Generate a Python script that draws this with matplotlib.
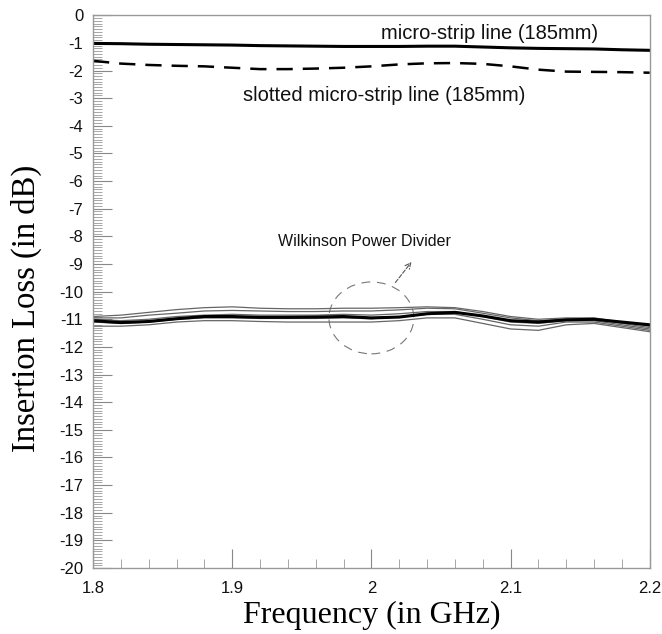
import numpy as np
import matplotlib
matplotlib.use("Agg")
import matplotlib.pyplot as plt
from matplotlib.patches import Ellipse
from matplotlib.ticker import MultipleLocator

freq = [1.80, 1.82, 1.84, 1.86, 1.88, 1.90, 1.92, 1.94, 1.96, 1.98, 2.00,
        2.02, 2.04, 2.06, 2.08, 2.10, 2.12, 2.14, 2.16, 2.18, 2.20]

micro_strip = [-1.02, -1.03, -1.05, -1.06, -1.07, -1.08, -1.10, -1.11, -1.12, -1.13, -1.13,
               -1.13, -1.12, -1.12, -1.15, -1.18, -1.20, -1.21, -1.22, -1.25, -1.27]
slotted = [-1.65, -1.75, -1.80, -1.83, -1.85, -1.90, -1.95, -1.95, -1.93, -1.90, -1.85,
           -1.78, -1.74, -1.73, -1.76, -1.85, -1.97, -2.04, -2.05, -2.06, -2.08]

wilk_thick = [-11.05, -11.12, -11.08, -10.98, -10.90, -10.90, -10.93, -10.93, -10.92, -10.90, -10.95,
              -10.92, -10.80, -10.75, -10.88, -11.05, -11.10, -11.02, -11.00, -11.10, -11.20]
wilk_thin1 = [-10.90, -10.85, -10.75, -10.65, -10.58, -10.55, -10.60, -10.62, -10.62, -10.60, -10.60,
              -10.58, -10.55, -10.58, -10.72, -10.90, -11.00, -10.95, -10.95, -11.10, -11.25]
wilk_thin2 = [-10.95, -10.95, -10.85, -10.78, -10.70, -10.68, -10.70, -10.72, -10.72, -10.70, -10.70,
              -10.66, -10.60, -10.62, -10.78, -10.95, -11.05, -11.00, -11.00, -11.15, -11.30]
wilk_thin3 = [-11.00, -11.05, -11.00, -10.90, -10.85, -10.82, -10.85, -10.85, -10.85, -10.82, -10.85,
              -10.80, -10.72, -10.72, -10.90, -11.10, -11.15, -11.05, -11.05, -11.20, -11.35]
wilk_thin4 = [-11.10, -11.15, -11.10, -11.00, -10.95, -10.95, -10.97, -10.97, -10.97, -10.95, -10.98,
              -10.92, -10.82, -10.82, -11.00, -11.20, -11.25, -11.10, -11.10, -11.25, -11.40]
wilk_thin5 = [-11.25, -11.25, -11.20, -11.10, -11.05, -11.05, -11.08, -11.10, -11.10, -11.10, -11.10,
              -11.05, -10.95, -10.95, -11.15, -11.35, -11.40, -11.20, -11.15, -11.30, -11.45]

x_ticks = [1.8, 1.9, 2.0, 2.1, 2.2]
x_tick_labels = ["1.8", "1.9", "2", "2.1", "2.2"]
y_ticks = list(range(0, -21, -1))
y_tick_labels = [str(v) for v in y_ticks]

label_micro = "micro-strip line (185mm)"
label_slotted = "slotted micro-strip line (185mm)"
label_wilk = "Wilkinson Power Divider"

plt.rcParams['font.family'] = ['Liberation Sans', 'DejaVu Sans']

fig = plt.figure(figsize=(6.62, 6.34), dpi=100)
ax = fig.add_axes([0.1405, 0.104, 0.841, 0.872])

for s in [wilk_thin1, wilk_thin2, wilk_thin3, wilk_thin4, wilk_thin5]:
    ax.plot(freq, s, color="#666666", lw=0.9)
ax.plot(freq, wilk_thick, color="black", lw=2.2)
ax.plot(freq, micro_strip, color="black", lw=2.2)
ax.plot(freq, slotted, color="black", lw=1.8, linestyle=(0, (6.5, 4)))

ell = Ellipse((2.0, -10.95), 0.061, 2.6, fill=False, edgecolor="#777777",
              lw=0.8, linestyle=(0, (8, 6)))
ax.add_patch(ell)
ax.annotate("", xy=(2.03, -8.85), xytext=(2.016, -9.75),
            arrowprops=dict(arrowstyle="->", color="#555555", lw=0.8, linestyle="--"))

ax.text(2.085, -0.65, label_micro, fontsize=14.5, ha="center", va="center", color="#111111")
ax.text(2.009, -2.9, label_slotted, fontsize=14.5, ha="center", va="center", color="#111111")
ax.text(1.995, -8.2, label_wilk, fontsize=11.5, ha="center", va="center", color="#111111")

ax.set_xlim(1.8, 2.2)
ax.set_ylim(-20, 0)
ax.set_xticks(x_ticks)
ax.set_xticklabels(x_tick_labels)
ax.set_yticks(y_ticks)
ax.set_yticklabels(y_tick_labels)
ax.xaxis.set_minor_locator(MultipleLocator(0.02))
ax.yaxis.set_minor_locator(MultipleLocator(0.1))

ax.tick_params(axis="both", which="major", direction="in", length=13.5, width=0.8,
               color="#888888", labelsize=12, labelcolor="#111111")
ax.tick_params(axis="both", which="minor", direction="in", length=6.5, width=0.6,
               color="#999999")
ax.tick_params(axis="x", which="major", pad=9)
ax.tick_params(axis="y", which="major", pad=7)

for sp in ax.spines.values():
    sp.set_color("#999999")
    sp.set_linewidth(1.0)

ax.set_xlabel("Frequency (in GHz)", fontsize=23, family=["Liberation Serif"], labelpad=4)
ax.set_ylabel("Insertion Loss (in dB)", fontsize=23.5, family=["Liberation Serif"])
ax.yaxis.set_label_coords(-0.092, 0.47)

fig.savefig("out.png", dpi=100)
